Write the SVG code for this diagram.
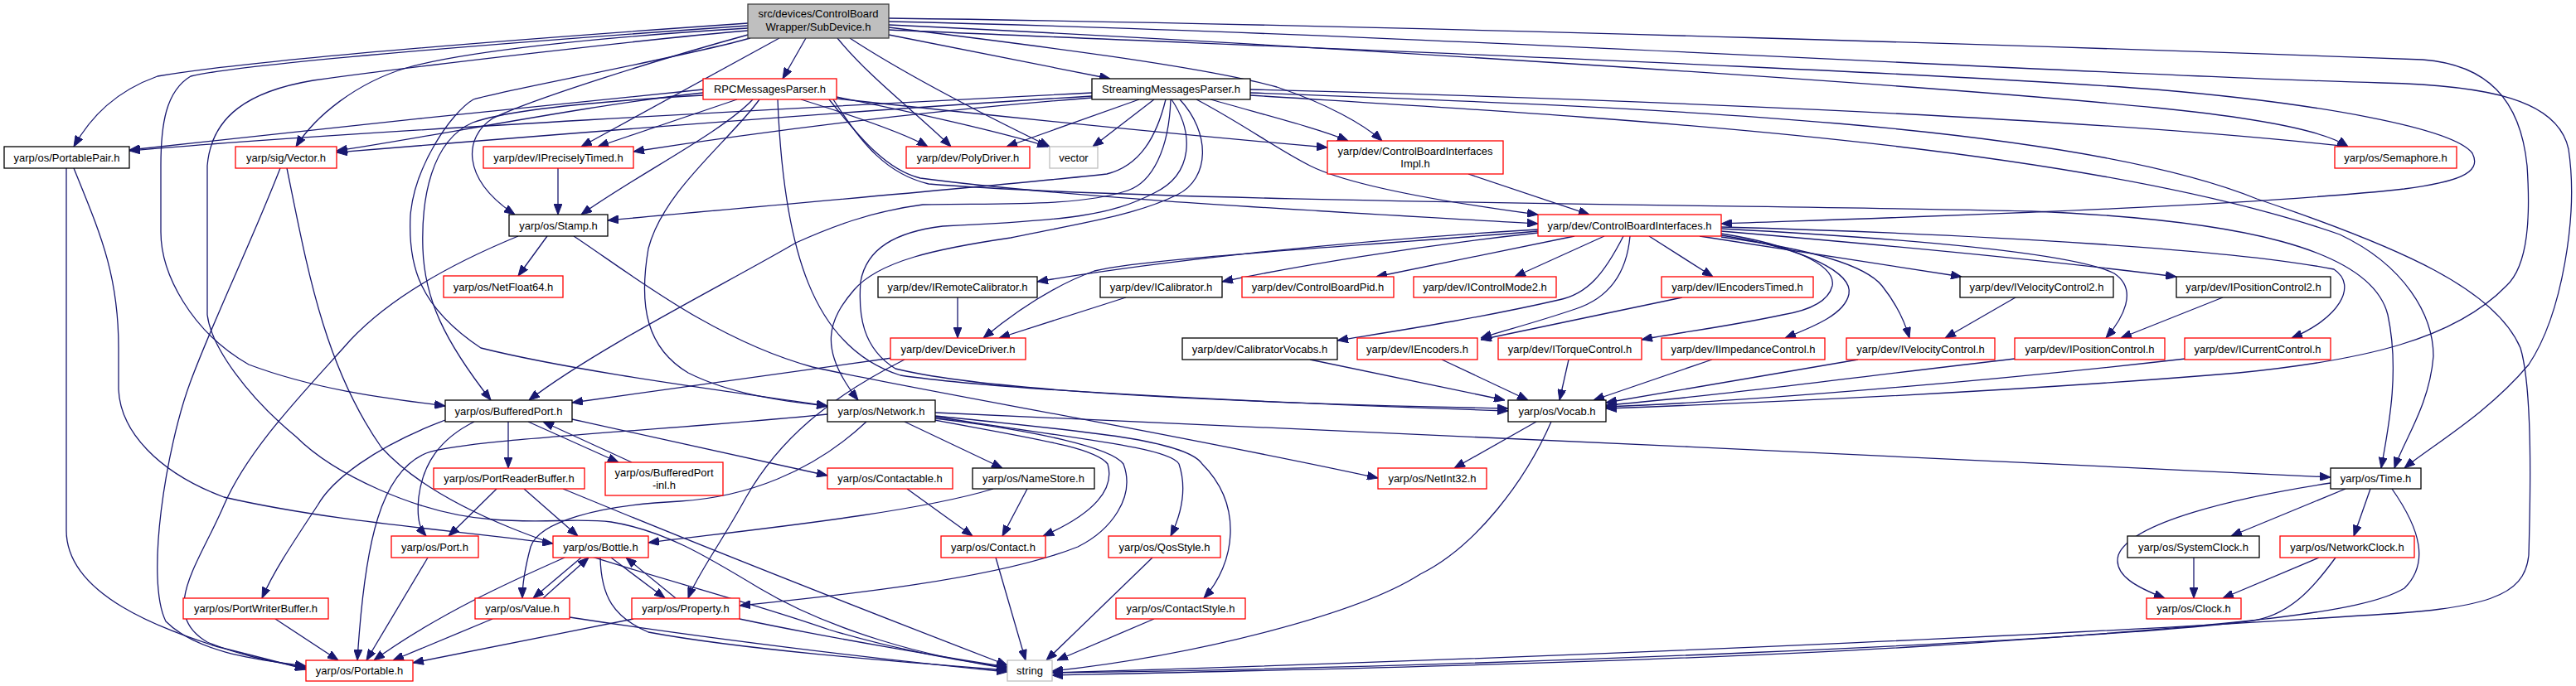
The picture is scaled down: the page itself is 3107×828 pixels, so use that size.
<svg xmlns="http://www.w3.org/2000/svg" width="3107" height="828" viewBox="0 0 3107 828">
<style>
.e path{fill:none;stroke:#191970;stroke-width:1.3;marker-end:url(#ah)}
rect{fill:#fff;stroke-width:1.3}
.k{stroke:#000}.r{stroke:#ff0000}.g{stroke:#bfbfbf}
.rt{fill:#bfbfbf;stroke:#404040}
text{font-family:"Liberation Sans",Arial,sans-serif;font-size:13px;text-anchor:middle;fill:#000}
</style>
<defs>
<marker id="ah" viewBox="0 0 13 10" markerWidth="13" markerHeight="10" refX="13" refY="5" orient="auto" markerUnits="userSpaceOnUse">
<path d="M0,0 L13,5 L0,10 z" fill="#191970" stroke="#191970" stroke-width="1"/>
</marker>
</defs>
<rect x="0" y="0" width="3107" height="828" style="fill:#fff;stroke:none"/>
<g id="edges" class="e">
<path d="M972,46 L944,95"/>
<path d="M1072,42 L1339,95"/>
<path d="M1010,46 C1050,95 1110,140 1147,177"/>
<path d="M1025,46 C1100,95 1200,145 1266,177"/>
<path d="M902,28 C700,42 320,70 190,92 C140,110 110,140 89,177"/>
<path d="M902,34 C720,45 560,62 490,82 C430,100 380,140 357,177"/>
<path d="M902,31 C700,45 300,75 230,92 C200,110 194,150 194,200 L194,280 C194,330 230,400 300,440 C380,470 460,480 537,490"/>
<path d="M940,46 L701,177"/>
<path d="M902,42 C800,70 640,120 594,143 C560,165 555,215 621,259"/>
<path d="M905,46 C820,70 600,110 571,120 C545,135 500,200 495,260 C492,320 505,370 580,420 C700,450 900,475 998,490"/>
<path d="M1072,33 C1250,55 1450,80 1540,105 C1600,125 1645,150 1667,170"/>
<path d="M1072,36 C1500,55 2300,85 2600,108 C2800,125 2960,155 2982,185 C2995,210 2960,220 2900,228 C2700,250 2300,262 2076,270"/>
<path d="M1072,30 C1500,50 2300,100 2600,130 C2750,145 2810,162 2832,177"/>
<path d="M1072,26 C1700,40 2500,90 2872,100 C3000,103 3085,120 3098,180 C3110,260 3090,380 3050,440 C3000,500 2930,540 2900,565"/>
<path d="M1072,22 C1700,30 2600,60 2922,72 C3000,78 3040,120 3048,200 C3052,260 3050,320 3023,345 C2960,410 2850,435 2700,450 C2400,475 2100,487 1937,493"/>
<path d="M902,37 C800,45 500,80 378,97 C300,110 255,140 250,200 L250,380 C255,420 300,480 357,527 C400,570 500,620 594,627 C650,632 700,625 737,630 C800,640 850,670 916,710 C1000,760 1120,795 1215,805"/>
<path d="M848,108 C700,122 300,165 156,181"/>
<path d="M848,112 C720,125 520,165 406,182"/>
<path d="M889,120 L721,177"/>
<path d="M908,120 C870,160 770,210 701,259"/>
<path d="M966,120 C1030,140 1090,160 1119,177"/>
<path d="M1009,117 C1100,135 1210,160 1264,177"/>
<path d="M1009,119 C1200,140 1450,165 1601,178"/>
<path d="M1000,120 C1040,170 1070,205 1110,215 C1300,240 1600,255 1855,270"/>
<path d="M1005,120 C1040,175 1070,210 1120,222 C1400,245 2200,248 2450,255 C2700,265 2860,300 2880,380 C2895,450 2880,520 2872,565"/>
<path d="M848,115 C760,120 620,130 570,148 C520,170 508,240 510,300 C512,360 535,410 592,483"/>
<path d="M916,120 C880,170 800,230 782,300 C770,370 780,420 830,450 C880,475 940,484 998,490"/>
<path d="M938,120 C945,300 980,420 1086,453 C1200,470 1500,485 1819,496"/>
<path d="M1317,112 C1000,128 400,160 156,182"/>
<path d="M1317,116 C1000,135 600,168 406,184"/>
<path d="M1317,118 C1100,135 900,162 764,183"/>
<path d="M1374,120 L1214,177"/>
<path d="M1392,120 L1318,177"/>
<path d="M1406,120 C1395,165 1375,200 1335,210 C1200,225 900,250 733,266"/>
<path d="M1460,120 C1530,140 1590,155 1626,170"/>
<path d="M1443,120 C1500,150 1540,180 1580,200 C1630,225 1750,245 1855,259"/>
<path d="M1508,108 C1900,118 2500,140 2832,177"/>
<path d="M1508,115 C1900,140 2500,170 2822,283 C2900,320 2935,380 2935,430 C2930,490 2900,530 2888,565"/>
<path d="M1508,112 C2000,130 2500,150 2722,240 C2900,300 3010,350 3040,420 C3055,470 3052,600 3050,670 C3045,720 3000,735 2847,743 C2600,760 2000,790 1269,812"/>
<path d="M1412,120 C1410,180 1390,220 1360,230 C1300,250 1200,245 1113,247 C1050,255 1000,275 960,293 C880,340 720,420 638,483"/>
<path d="M1423,120 C1460,160 1460,215 1420,235 C1370,260 1300,270 1219,287 C1130,300 1060,315 1030,350 C1000,385 985,420 1035,483"/>
<path d="M1413,120 C1440,160 1440,210 1392,233 C1340,260 1290,266 1137,273 C1080,280 1045,300 1038,340 C1035,380 1040,420 1080,445 C1200,475 1550,488 1819,493"/>
<path d="M1771,210 L1917,259"/>
<path d="M1855,277 C1600,292 1380,318 1251,340"/>
<path d="M1855,281 C1700,298 1560,322 1474,340"/>
<path d="M1855,279 C1600,300 1380,312 1320,327 C1270,345 1220,380 1186,408"/>
<path d="M1899,285 L1660,334"/>
<path d="M1935,285 L1827,334"/>
<path d="M1989,285 L2066,334"/>
<path d="M1958,285 C1935,330 1915,355 1880,362 C1780,385 1680,400 1613,411"/>
<path d="M1966,285 C1962,330 1940,360 1900,373 C1850,390 1810,400 1786,408"/>
<path d="M2076,282 C2160,295 2215,320 2210,345 C2205,365 2180,375 2150,380 C2080,395 2020,402 1980,410"/>
<path d="M2076,284 C2180,300 2235,330 2230,355 C2225,380 2185,395 2153,408"/>
<path d="M2076,286 C2180,300 2250,320 2270,345 C2290,370 2298,390 2303,408"/>
<path d="M2050,285 L2366,334"/>
<path d="M2076,279 C2300,298 2500,318 2625,334"/>
<path d="M2076,276 C2300,288 2500,305 2550,330 C2580,350 2560,385 2540,408"/>
<path d="M2076,274 C2400,283 2700,302 2815,325 C2845,345 2820,385 2764,408"/>
<path d="M2029,359 L1786,410"/>
<path d="M2431,359 L2346,408"/>
<path d="M2681,359 L2558,408"/>
<path d="M1155,359 L1155,408"/>
<path d="M1358,359 L1205,408"/>
<path d="M1076,432 L690,486"/>
<path d="M1091,434 C1000,480 940,530 900,600 C870,655 840,695 830,722"/>
<path d="M1580,434 L1815,483"/>
<path d="M1739,434 L1843,483"/>
<path d="M1892,434 L1881,483"/>
<path d="M2065,434 L1922,483"/>
<path d="M2241,434 L1937,486"/>
<path d="M2430,433 C2200,460 2050,480 1937,489"/>
<path d="M2636,433 C2400,460 2100,485 1937,491"/>
<path d="M1853,509 L1754,565"/>
<path d="M1871,509 C1840,580 1780,660 1713,693 C1640,740 1450,790 1269,810"/>
<path d="M673,203 L673,259"/>
<path d="M660,285 L625,333"/>
<path d="M625,285 C540,320 470,360 423,410 C370,470 300,540 270,610 C240,680 190,740 250,775 C300,795 340,800 369,806"/>
<path d="M692,285 C760,330 860,410 980,443 C1100,470 1400,520 1662,577"/>
<path d="M338,203 C300,300 260,380 230,460 C200,540 175,700 200,750 C240,790 320,797 369,804"/>
<path d="M346,203 C370,320 390,440 460,540 C560,650 800,690 1000,760 C1100,790 1180,800 1215,807"/>
<path d="M80,203 L80,640 C80,720 200,760 260,780 C300,790 340,800 369,808"/>
<path d="M89,203 C120,280 143,330 143,420 L143,470 C145,520 190,570 270,600 C400,630 550,640 667,656"/>
<path d="M613,509 L613,565"/>
<path d="M637,509 L746,558"/>
<path d="M762,558 L655,509"/>
<path d="M572,509 C530,530 510,560 505,600 C502,630 508,640 514,647"/>
<path d="M537,507 C450,540 400,580 383,610 C350,660 330,690 316,722"/>
<path d="M690,506 L998,574"/>
<path d="M599,590 L541,647"/>
<path d="M632,590 L697,647"/>
<path d="M679,590 C800,640 1000,720 1215,803"/>
<path d="M516,673 L442,797"/>
<path d="M701,673 L643,722"/>
<path d="M737,673 L802,722"/>
<path d="M681,673 C620,700 530,740 451,797"/>
<path d="M724,673 C725,720 740,745 782,763 C900,785 1100,800 1215,809"/>
<path d="M655,722 L710,673"/>
<path d="M815,722 L755,673"/>
<path d="M594,747 L474,797"/>
<path d="M687,745 C850,770 1050,795 1215,811"/>
<path d="M764,747 L498,800"/>
<path d="M892,747 C1000,770 1150,795 1215,805"/>
<path d="M332,747 L408,797"/>
<path d="M998,500 C800,520 560,530 514,547 C460,570 440,650 431,797"/>
<path d="M1045,509 C980,570 900,600 820,605 C720,610 650,630 640,660 C632,690 630,710 630,722"/>
<path d="M1091,509 L1209,565"/>
<path d="M1127,507 C1250,530 1320,540 1336,560 C1345,590 1320,620 1258,647"/>
<path d="M1128,505 C1250,520 1340,540 1355,560 C1370,600 1340,640 1300,660 C1200,700 1000,720 892,731"/>
<path d="M1128,503 C1300,530 1410,540 1422,560 C1432,590 1425,620 1412,647"/>
<path d="M1128,502 C1300,520 1430,530 1450,560 C1500,610 1490,680 1452,722"/>
<path d="M1128,498 C1600,520 2300,550 2811,576"/>
<path d="M1094,590 L1173,647"/>
<path d="M1239,590 L1209,647"/>
<path d="M1198,590 C1100,620 900,640 782,655"/>
<path d="M1201,673 L1237,797"/>
<path d="M1390,673 L1262,797"/>
<path d="M1392,747 L1275,797"/>
<path d="M2829,590 L2691,647"/>
<path d="M2859,590 L2839,647"/>
<path d="M2811,583 C2700,600 2570,630 2555,670 C2548,695 2580,710 2611,722"/>
<path d="M2885,590 C2920,640 2930,680 2900,710 C2850,740 2700,755 2320,780 C2000,800 1500,810 1269,815"/>
<path d="M2646,673 L2646,722"/>
<path d="M2797,673 L2681,722"/>
<path d="M2817,673 C2790,710 2760,745 2711,750 C2500,775 1800,805 1269,812"/>
</g>
<g id="n_root"><rect class="rt" x="902" y="5" width="170" height="41"/><text x="987" y="21">src/devices/ControlBoard</text><text x="987" y="37">Wrapper/SubDevice.h</text></g>
<g id="n_rpc"><rect class="r" x="848" y="95" width="161" height="25"/><text x="928.5" y="112">RPCMessagesParser.h</text></g>
<g id="n_smp"><rect class="k" x="1317" y="95" width="191" height="25"/><text x="1412.5" y="112">StreamingMessagesParser.h</text></g>
<g id="n_portablepair"><rect class="k" x="5" y="177" width="151" height="26"/><text x="80.5" y="194.5">yarp/os/PortablePair.h</text></g>
<g id="n_sigvector"><rect class="r" x="284" y="177" width="122" height="26"/><text x="345" y="194.5">yarp/sig/Vector.h</text></g>
<g id="n_ipt"><rect class="r" x="583" y="177" width="181" height="26"/><text x="673.5" y="194.5">yarp/dev/IPreciselyTimed.h</text></g>
<g id="n_polydriver"><rect class="r" x="1093" y="177" width="149" height="26"/><text x="1167.5" y="194.5">yarp/dev/PolyDriver.h</text></g>
<g id="n_vector"><rect class="g" x="1266" y="177" width="58" height="26"/><text x="1295" y="194.5">vector</text></g>
<g id="n_cbiimpl"><rect class="r" x="1601" y="170" width="212" height="40"/><text x="1707" y="186.5">yarp/dev/ControlBoardInterfaces</text><text x="1707" y="201.5">Impl.h</text></g>
<g id="n_semaphore"><rect class="r" x="2816" y="177" width="147" height="26"/><text x="2889.5" y="194.5">yarp/os/Semaphore.h</text></g>
<g id="n_stamp"><rect class="k" x="614" y="259" width="119" height="26"/><text x="673.5" y="276.5">yarp/os/Stamp.h</text></g>
<g id="n_cbi"><rect class="r" x="1855" y="259" width="221" height="26"/><text x="1965.5" y="276.5">yarp/dev/ControlBoardInterfaces.h</text></g>
<g id="n_netfloat64"><rect class="r" x="535" y="333" width="144" height="26"/><text x="607" y="350.5">yarp/os/NetFloat64.h</text></g>
<g id="n_iremotecal"><rect class="k" x="1059" y="334" width="192" height="25"/><text x="1155" y="351">yarp/dev/IRemoteCalibrator.h</text></g>
<g id="n_icalibrator"><rect class="k" x="1327" y="334" width="147" height="25"/><text x="1400.5" y="351">yarp/dev/ICalibrator.h</text></g>
<g id="n_cbpid"><rect class="r" x="1498" y="334" width="183" height="25"/><text x="1589.5" y="351">yarp/dev/ControlBoardPid.h</text></g>
<g id="n_icontrolmode2"><rect class="r" x="1705" y="334" width="172" height="25"/><text x="1791" y="351">yarp/dev/IControlMode2.h</text></g>
<g id="n_iencoderstimed"><rect class="r" x="2004" y="334" width="183" height="25"/><text x="2095.5" y="351">yarp/dev/IEncodersTimed.h</text></g>
<g id="n_ivelocity2"><rect class="k" x="2364" y="334" width="185" height="25"/><text x="2456.5" y="351">yarp/dev/IVelocityControl2.h</text></g>
<g id="n_iposition2"><rect class="k" x="2625" y="334" width="186" height="25"/><text x="2718" y="351">yarp/dev/IPositionControl2.h</text></g>
<g id="n_devicedriver"><rect class="r" x="1074" y="408" width="163" height="26"/><text x="1155.5" y="425.5">yarp/dev/DeviceDriver.h</text></g>
<g id="n_calvocabs"><rect class="k" x="1426" y="408" width="187" height="26"/><text x="1519.5" y="425.5">yarp/dev/CalibratorVocabs.h</text></g>
<g id="n_iencoders"><rect class="r" x="1637" y="408" width="145" height="26"/><text x="1709.5" y="425.5">yarp/dev/IEncoders.h</text></g>
<g id="n_itorque"><rect class="r" x="1807" y="408" width="173" height="26"/><text x="1893.5" y="425.5">yarp/dev/ITorqueControl.h</text></g>
<g id="n_iimpedance"><rect class="r" x="2004" y="408" width="197" height="26"/><text x="2102.5" y="425.5">yarp/dev/IImpedanceControl.h</text></g>
<g id="n_ivelocity"><rect class="r" x="2227" y="408" width="179" height="26"/><text x="2316.5" y="425.5">yarp/dev/IVelocityControl.h</text></g>
<g id="n_iposition"><rect class="r" x="2430" y="408" width="181" height="26"/><text x="2520.5" y="425.5">yarp/dev/IPositionControl.h</text></g>
<g id="n_icurrent"><rect class="r" x="2635" y="408" width="176" height="26"/><text x="2723" y="425.5">yarp/dev/ICurrentControl.h</text></g>
<g id="n_bufferedport"><rect class="k" x="537" y="483" width="153" height="26"/><text x="613.5" y="500.5">yarp/os/BufferedPort.h</text></g>
<g id="n_network"><rect class="k" x="998" y="483" width="130" height="26"/><text x="1063" y="500.5">yarp/os/Network.h</text></g>
<g id="n_vocab"><rect class="k" x="1819" y="483" width="118" height="26"/><text x="1878" y="500.5">yarp/os/Vocab.h</text></g>
<g id="n_portreaderbuffer"><rect class="r" x="523" y="565" width="182" height="25"/><text x="614" y="582">yarp/os/PortReaderBuffer.h</text></g>
<g id="n_bufferedportinl"><rect class="r" x="730" y="558" width="142" height="40"/><text x="801" y="574.5">yarp/os/BufferedPort</text><text x="801" y="589.5">-inl.h</text></g>
<g id="n_contactable"><rect class="r" x="998" y="565" width="151" height="25"/><text x="1073.5" y="582">yarp/os/Contactable.h</text></g>
<g id="n_namestore"><rect class="k" x="1173" y="565" width="147" height="25"/><text x="1246.5" y="582">yarp/os/NameStore.h</text></g>
<g id="n_netint32"><rect class="r" x="1662" y="565" width="131" height="25"/><text x="1727.5" y="582">yarp/os/NetInt32.h</text></g>
<g id="n_time"><rect class="k" x="2811" y="565" width="109" height="25"/><text x="2865.5" y="582">yarp/os/Time.h</text></g>
<g id="n_port"><rect class="r" x="472" y="647" width="105" height="26"/><text x="524.5" y="664.5">yarp/os/Port.h</text></g>
<g id="n_bottle"><rect class="r" x="667" y="647" width="115" height="26"/><text x="724.5" y="664.5">yarp/os/Bottle.h</text></g>
<g id="n_contact"><rect class="r" x="1135" y="647" width="126" height="26"/><text x="1198" y="664.5">yarp/os/Contact.h</text></g>
<g id="n_qosstyle"><rect class="r" x="1337" y="647" width="135" height="26"/><text x="1404.5" y="664.5">yarp/os/QosStyle.h</text></g>
<g id="n_systemclock"><rect class="k" x="2566" y="647" width="159" height="26"/><text x="2645.5" y="664.5">yarp/os/SystemClock.h</text></g>
<g id="n_networkclock"><rect class="r" x="2750" y="647" width="162" height="26"/><text x="2831" y="664.5">yarp/os/NetworkClock.h</text></g>
<g id="n_portwriterbuffer"><rect class="r" x="221" y="722" width="175" height="25"/><text x="308.5" y="739">yarp/os/PortWriterBuffer.h</text></g>
<g id="n_value"><rect class="r" x="573" y="722" width="114" height="25"/><text x="630" y="739">yarp/os/Value.h</text></g>
<g id="n_property"><rect class="r" x="762" y="722" width="130" height="25"/><text x="827" y="739">yarp/os/Property.h</text></g>
<g id="n_contactstyle"><rect class="r" x="1346" y="722" width="156" height="25"/><text x="1424" y="739">yarp/os/ContactStyle.h</text></g>
<g id="n_clock"><rect class="r" x="2589" y="722" width="114" height="25"/><text x="2646" y="739">yarp/os/Clock.h</text></g>
<g id="n_portable"><rect class="r" x="369" y="797" width="129" height="25"/><text x="433.5" y="814">yarp/os/Portable.h</text></g>
<g id="n_string"><rect class="g" x="1215" y="797" width="54" height="25"/><text x="1242" y="814">string</text></g>
</svg>
